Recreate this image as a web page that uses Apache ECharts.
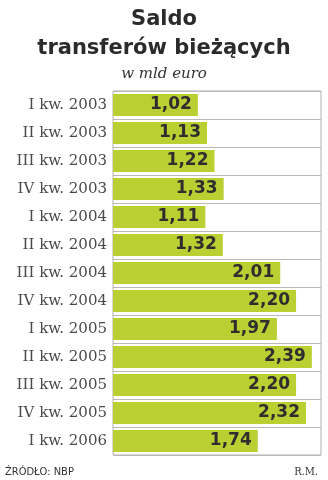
<!DOCTYPE html>
<html>
<head>
<meta charset="utf-8">
<script src="https://cdn.jsdelivr.net/npm/echarts@6/dist/echarts.min.js"></script>
<style>
  html, body { margin: 0; padding: 0; background: #fff; }
  #chart { width: 328px; height: 480px; }
</style>
</head>
<body>
<div id="chart"></div>
<script>
// Quarterly current transfers balance, bn EUR
const categories = [
  'I kw. 2003', 'II kw. 2003', 'III kw. 2003', 'IV kw. 2003',
  'I kw. 2004', 'II kw. 2004', 'III kw. 2004', 'IV kw. 2004',
  'I kw. 2005', 'II kw. 2005', 'III kw. 2005', 'IV kw. 2005',
  'I kw. 2006'
];
const values = [1.02, 1.13, 1.22, 1.33, 1.11, 1.32, 2.01, 2.20, 1.97, 2.39, 2.20, 2.32, 1.74];

const chart = echarts.init(document.getElementById('chart'));
chart.setOption({
  backgroundColor: '#fff',
  animation: false,
  title: [
    {
      text: 'Saldo\ntransferów bieżących',
      left: 'center',
      top: 0,
      textStyle: {
        fontFamily: 'DejaVu Sans',
        fontWeight: 'bold',
        fontSize: 21,
        lineHeight: 29,
        color: '#2b2b2b'
      }
    },
    {
      text: 'w mld euro',
      left: 'center',
      top: 62,
      textStyle: {
        fontFamily: 'DejaVu Serif',
        fontStyle: 'italic',
        fontWeight: 'normal',
        fontSize: 15,
        color: '#333'
      }
    },
    {
      text: 'ŹRÓDŁO: NBP',
      left: 0,
      top: 462,
      textStyle: { fontFamily: 'DejaVu Sans Condensed', fontWeight: 'normal', fontSize: 11, color: '#333' }
    },
    {
      text: 'R.M.',
      right: 5,
      top: 462,
      textStyle: { fontFamily: 'DejaVu Serif Condensed', fontWeight: 'normal', fontSize: 11, color: '#333' }
    }
  ],
  grid: {
    left: 113,
    right: 7,
    top: 91,
    bottom: 25,
    show: true,
    borderColor: '#b0b0b0',
    borderWidth: 1
  },
  xAxis: {
    type: 'value',
    min: 0,
    max: 2.5,
    show: false
  },
  yAxis: {
    type: 'category',
    data: categories,
    inverse: true,
    axisLine: { show: false },
    axisTick: { show: false },
    splitLine: { show: true, lineStyle: { color: '#b8b8b8', width: 1 } },
    axisLabel: {
      margin: 6,
      fontFamily: 'DejaVu Serif',
      fontSize: 15,
      color: '#4a4a4a'
    }
  },
  series: [{
    type: 'bar',
    data: values,
    barCategoryGap: '22%',
    itemStyle: { color: '#bad032' },
    label: {
      show: true,
      position: 'insideRight',
      distance: 6,
      formatter: p => p.value.toFixed(2).replace('.', ','),
      fontFamily: 'DejaVu Sans',
      fontWeight: 'bold',
      fontSize: 17,
      color: '#2e2e2e'
    }
  }]
});
</script>
</body>
</html>
